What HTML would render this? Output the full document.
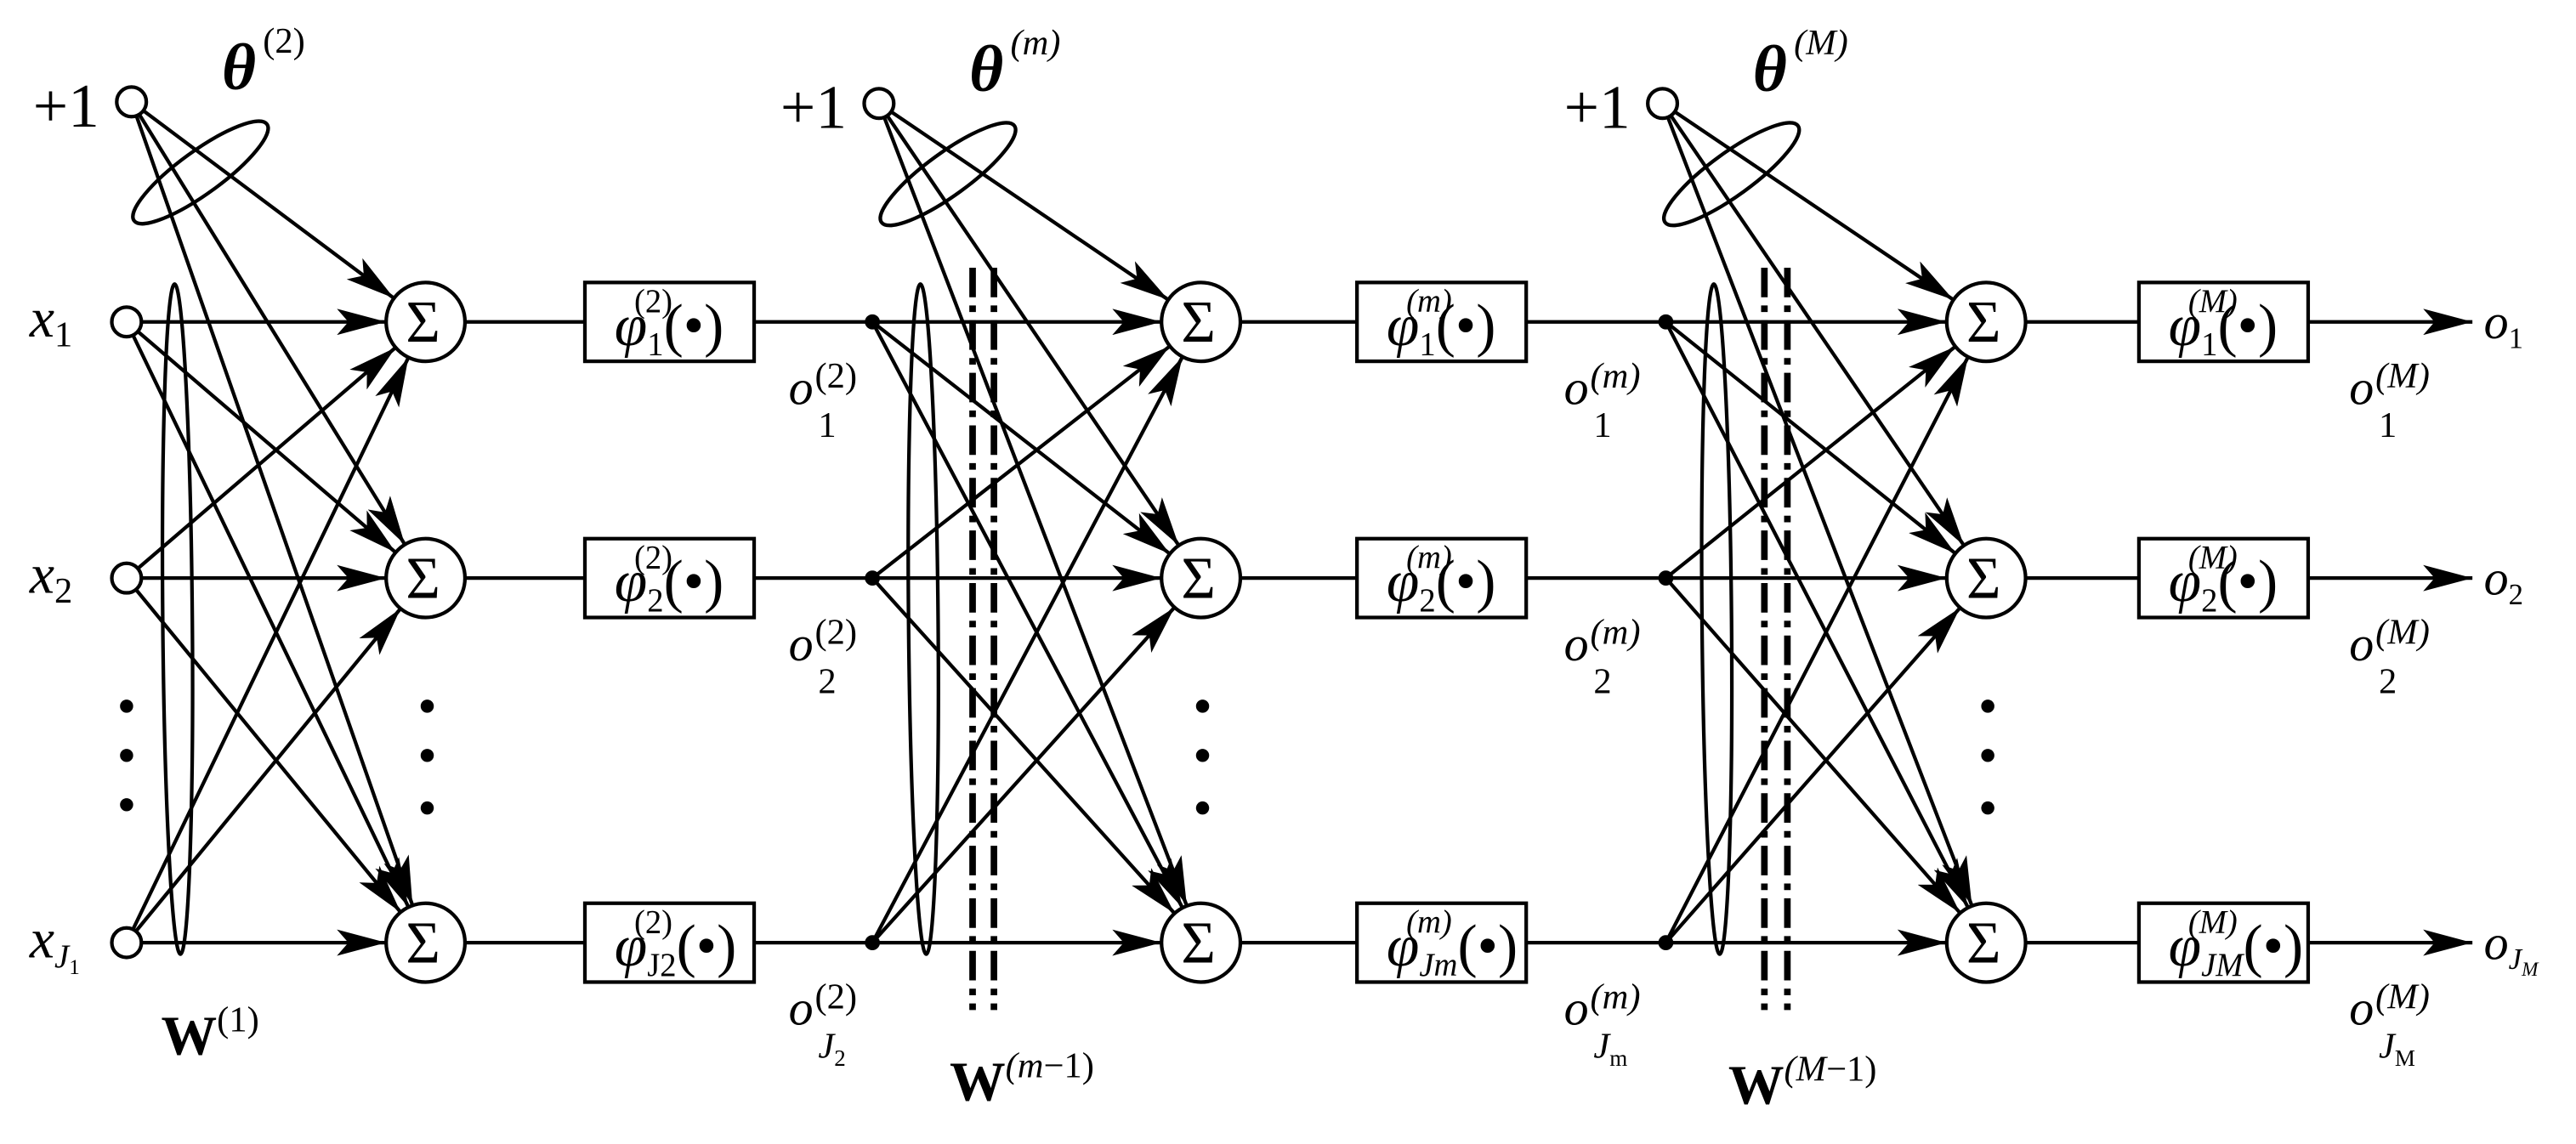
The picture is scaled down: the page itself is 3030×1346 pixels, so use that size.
<!DOCTYPE html>
<html><head><meta charset="utf-8"><style>
html,body{margin:0;padding:0;background:#fff;}
svg{display:block;}
text{font-family:"Liberation Serif",serif;fill:#000;}
</style></head><body>
<svg id="s" width="3030" height="1346" viewBox="0 0 1568 696.6" xmlns="http://www.w3.org/2000/svg">
<defs>
<marker id="a" viewBox="0 0 30 16" refX="30" refY="8" markerWidth="30" markerHeight="16" markerUnits="userSpaceOnUse" orient="auto">
<path d="M0,0 L30,8 L0,16 L7,8 Z" fill="#000"/>
</marker>
</defs>
<g id="g" stroke="#000" stroke-width="2.2" fill="none"></g>
<g id="t"></g>
</svg>
<script>
var g=document.getElementById('g'),T=document.getElementById('t'),NS='http://www.w3.org/2000/svg';
function el(p,tag,at){var e=document.createElementNS(NS,tag);for(var k in at)e.setAttribute(k,at[k]);p.appendChild(e);return e;}
function line(x1,y1,x2,y2,arrow,w){var a={x1:x1,y1:y1,x2:x2,y2:y2};if(arrow)a['marker-end']='url(#a)';if(w)a['stroke-width']=w;el(g,'line',a);}
function tx(x,y,s,size,opt){opt=opt||{};var a={x:x,y:y,'font-size':size};if(opt.i)a['font-style']='italic';if(opt.b)a['font-weight']='bold';var e=el(T,'text',a);e.innerHTML=s;return e;}
var ys=[196,352,574];
var layers=[
 {b:[80,62],src:77,srcCircle:true,sx:259,box:356,pl:'(2)',sub:['1','2','J2']},
 {b:[535,63],src:531,srcCircle:false,sx:731,box:826,pl:'(m)',sub:['1','2','Jm']},
 {b:[1012,63],src:1014,srcCircle:false,sx:1209,box:1302,pl:'(M)',sub:['1','2','JM']}
];
var R=24;
layers.forEach(function(L,li){
 el(g,'circle',{cx:L.b[0],cy:L.b[1],r:9,fill:'#fff'});
 ys.forEach(function(ty){
  var dx=L.sx-L.b[0],dy=ty-L.b[1],d=Math.hypot(dx,dy);
  line(L.b[0]+dx/d*9,L.b[1]+dy/d*9,L.sx-dx/d*R,ty-dy/d*R,true);
  ys.forEach(function(sy){
   var r0=L.srcCircle?9:0;var dx=L.sx-L.src,dy=ty-sy,d=Math.hypot(dx,dy);
   line(L.src+dx/d*r0,sy+dy/d*r0,L.sx-dx/d*R,ty-dy/d*R,true);
  });
 });
 ys.forEach(function(y,i){
  if(L.srcCircle) el(g,'circle',{cx:L.src,cy:y,r:9,fill:'#fff'});
  else el(g,'circle',{cx:L.src,cy:y,r:3.5,fill:'#000'});
  el(g,'circle',{cx:L.sx,cy:y,r:R,fill:'#fff'});
  tx(L.sx-12,y+12,'Σ',36);
  line(L.sx+R,y,L.box,y);
  el(g,'rect',{x:L.box,y:y-24,width:103,height:48,fill:'#fff'});
  var right=L.box+103;
  if(li<2) line(right,y,layers[li+1].src,y);
  else line(right,y,1505,y,true);
  var e=tx(L.box+18,y+14,'',36);
  e.innerHTML='<tspan font-style="italic">φ</tspan><tspan font-size="20" dy="6">'+(L.sub[i]=='J2'?'J2':L.sub[i]=='Jm'?'<tspan font-style="italic">Jm</tspan>':L.sub[i]=='JM'?'<tspan font-style="italic">JM</tspan>':L.sub[i])+'</tspan><tspan dy="-6">(•)</tspan>';
  tx(L.box+30,y-6,L.pl,20,{i:li>0});
  var ox=(li==0?480:li==1?952:1430);
  var o=tx(ox,y+50,'',30);
  var subs=L.sub[i]=='1'?'1':L.sub[i]=='2'?'2':'<tspan font-style="italic">J</tspan><tspan font-size="14" dy="5">'+(li==0?'2':li==1?'m':'M')+'</tspan>';
  o.innerHTML='<tspan font-style="italic">o</tspan>';
  tx(ox+18,y+70,subs,22);
  tx(ox+16,y+40,L.pl,22,{i:li>0});
 });
 [430,460,492].forEach(function(dy){el(g,'circle',{cx:L.sx+1,cy:dy,r:4,fill:'#000',stroke:'none'});});
 el(g,'ellipse',{cx:L.b[0]+42,cy:L.b[1]+43,rx:50,ry:13,transform:'rotate(-36 '+(L.b[0]+42)+' '+(L.b[1]+43)+')'});
 el(g,'ellipse',{cx:L.src+31,cy:377,rx:9,ry:204,transform:'rotate(-0.5 '+(L.src+31)+' 377)'});
 tx(L.b[0]-60,L.b[1]+15,'+1',38);
 tx(L.b[0]+55,L.b[1]-8,'θ',40,{b:1,i:1});
 tx(L.b[0]+80,L.b[1]-30,L.pl,22,{i:li>0});
});
[[592,605],[1074,1088]].forEach(function(p){p.forEach(function(x){el(g,'line',{x1:x,y1:163,x2:x,y2:615,'stroke-width':4,'stroke-dasharray':'18 5 4 5'});});});
tx(18,205,'<tspan font-style="italic">x</tspan><tspan font-size="22" dy="6">1</tspan>',34);
tx(18,361,'<tspan font-style="italic">x</tspan><tspan font-size="22" dy="6">2</tspan>',34);
tx(18,583,'<tspan font-style="italic">x</tspan><tspan font-size="20" dy="6" font-style="italic">J</tspan><tspan font-size="13" dy="4">1</tspan>',34);
[430,460,490].forEach(function(dy){el(g,'circle',{cx:77,cy:dy,r:4,fill:'#000',stroke:'none'});});
tx(98,642,'<tspan font-weight="bold">W</tspan><tspan font-size="22" dy="-14">(1)</tspan>',34);
tx(578,670,'<tspan font-weight="bold">W</tspan><tspan font-size="22" dy="-14" font-style="italic">(m</tspan><tspan font-size="22">−1)</tspan>',34);
tx(1052,672,'<tspan font-weight="bold">W</tspan><tspan font-size="22" dy="-14" font-style="italic">(M</tspan><tspan font-size="22">−1)</tspan>',34);
tx(1512,206,'<tspan font-style="italic">o</tspan><tspan font-size="18" dy="6">1</tspan>',30);
tx(1512,362,'<tspan font-style="italic">o</tspan><tspan font-size="18" dy="6">2</tspan>',30);
tx(1512,584,'<tspan font-style="italic">o</tspan><tspan font-size="18" dy="6" font-style="italic">J</tspan><tspan font-size="12" dy="4" font-style="italic">M</tspan>',30);
</script>
</body></html>
